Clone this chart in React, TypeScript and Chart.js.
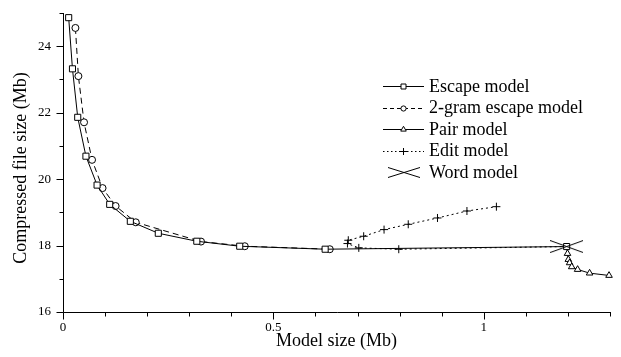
import React, { useEffect, useRef } from 'react';
import { Chart, registerables } from 'chart.js';

Chart.register(...registerables);

const FONT = "'Liberation Serif', 'Times New Roman', serif";

// Data
const escapeX = [0.0135, 0.0225, 0.035, 0.0545, 0.081, 0.111, 0.16, 0.2265, 0.318, 0.42, 0.623, 1.197];
const escapeY = [24.86, 23.32, 21.86, 20.69, 19.82, 19.24, 18.73, 18.37, 18.13, 17.98, 17.89, 17.97];

const gramX = [0.0295, 0.0366, 0.05, 0.069, 0.094, 0.125, 0.173, 0.328, 0.432, 0.634];
const gramY = [24.55, 23.1, 21.71, 20.58, 19.73, 19.19, 18.7, 18.12, 17.98, 17.89];

const pairX = [1.197, 1.199, 1.201, 1.204, 1.209, 1.223, 1.2515, 1.2977];
const pairY = [17.97, 17.76, 17.58, 17.48, 17.36, 17.28, 17.17, 17.1];

const editX = [1.197, 0.798, 0.703, 0.676, 0.678, 0.7146, 0.763, 0.8205, 0.89, 0.96, 1.03];
const editY = [17.97, 17.89, 17.93, 18.06, 18.16, 18.28, 18.48, 18.64, 18.83, 19.04, 19.17];

const wordX = [1.197];
const wordY = [17.97];

const xMajorLabels = [0, 0.5, 1];
const yMajorLabels = [16, 18, 20, 22, 24];

const legendLabels = ['Escape model', '2-gram escape model', 'Pair model', 'Edit model', 'Word model'];

const toPoints = (xs: number[], ys: number[]) => xs.map((x, i) => ({ x, y: ys[i] }));

function makeXMarker(w: number, h: number): HTMLCanvasElement {
  const c = document.createElement('canvas');
  c.width = w;
  c.height = h;
  const g = c.getContext('2d')!;
  g.strokeStyle = '#000';
  g.lineWidth = 1;
  g.beginPath();
  g.moveTo(0, 0.5);
  g.lineTo(w, h - 0.5);
  g.moveTo(0, h - 0.5);
  g.lineTo(w, 0.5);
  g.stroke();
  return c;
}

function isLabelled(v: number, list: number[]) {
  return list.some((m) => Math.abs(m - v) < 1e-6);
}

function fmt(v: number) {
  return String(Math.round(v * 1000) / 1000);
}

function drawMarker(ctx: CanvasRenderingContext2D, style: string, x: number, y: number, r: number) {
  ctx.save();
  ctx.fillStyle = '#fff';
  ctx.strokeStyle = '#000';
  ctx.lineWidth = 1;
  ctx.setLineDash([]);
  ctx.beginPath();
  if (style === 'rect') {
    ctx.rect(x - r, y - r, 2 * r, 2 * r);
    ctx.fill();
    ctx.stroke();
  } else if (style === 'circle') {
    ctx.arc(x, y, r, 0, Math.PI * 2);
    ctx.fill();
    ctx.stroke();
  } else if (style === 'triangle') {
    ctx.moveTo(x, y - r);
    ctx.lineTo(x + r * 0.866, y + r * 0.5);
    ctx.lineTo(x - r * 0.866, y + r * 0.5);
    ctx.closePath();
    ctx.fill();
    ctx.stroke();
  } else if (style === 'cross') {
    ctx.moveTo(x - r, y);
    ctx.lineTo(x + r, y);
    ctx.moveTo(x, y - r);
    ctx.lineTo(x, y + r);
    ctx.stroke();
  }
  ctx.restore();
}

const decorPlugin = {
  id: 'decor',
  afterDraw(chart: any) {
    const { ctx, chartArea: a, scales } = chart;
    const xs = scales.x;
    const ys = scales.y;
    ctx.save();
    ctx.strokeStyle = '#000';
    ctx.lineWidth = 1;
    ctx.setLineDash([]);
    const bx = Math.round(a.left) + 0.5;
    const by = Math.round(a.bottom) + 0.5;
    ctx.beginPath();
    ctx.moveTo(bx, Math.round(a.top));
    ctx.lineTo(bx, by);
    ctx.lineTo(Math.round(a.right) + 1, by);
    xs.ticks.forEach((t: any) => {
      const px = Math.round(xs.getPixelForValue(t.value)) + 0.5;
      const len = isLabelled(t.value, xMajorLabels) ? 7 : 4;
      ctx.moveTo(px, by);
      ctx.lineTo(px, by + len);
    });
    ys.ticks.forEach((t: any) => {
      const py = Math.round(ys.getPixelForValue(t.value)) + 0.5;
      const len = isLabelled(t.value, yMajorLabels) ? 7 : 4;
      ctx.moveTo(bx, py);
      ctx.lineTo(bx - len, py);
    });
    ctx.stroke();

    // axis titles
    ctx.fillStyle = '#000';
    ctx.font = `18px ${FONT}`;
    ctx.textAlign = 'center';
    ctx.textBaseline = 'middle';
    ctx.fillText('Model size (Mb)', (a.left + a.right) / 2, 341);
    ctx.save();
    ctx.translate(21, 168);
    ctx.rotate(-Math.PI / 2);
    ctx.fillText('Compressed file size (Mb)', 0, 0);
    ctx.restore();

    // legend
    const lx0 = 383;
    const lx1 = 424;
    const mx = (lx0 + lx1) / 2;
    const tx = 429;
    const rowY = [86, 107.5, 129, 150.5, 172];
    const dashes: number[][] = [[], [4, 3], [], [1.5, 2.5], []];
    const markers = ['rect', 'circle', 'triangle', 'cross', 'word'];
    const sizes = [2.5, 2.6, 3.2, 3.5, 0];
    legendLabels.forEach((label, i) => {
      const yy = Math.round(rowY[i]) + 0.5;
      if (markers[i] !== 'word') {
        ctx.save();
        ctx.setLineDash(dashes[i]);
        ctx.beginPath();
        ctx.moveTo(lx0, yy);
        ctx.lineTo(lx1, yy);
        ctx.stroke();
        ctx.restore();
        drawMarker(ctx, markers[i], mx, yy, sizes[i]);
      } else {
        const m = makeXMarker(32, 11);
        ctx.drawImage(m, Math.round(mx - 16), Math.round(yy - 5.5));
      }
      ctx.fillStyle = '#000';
      ctx.font = `18px ${FONT}`;
      ctx.textAlign = 'left';
      ctx.textBaseline = 'middle';
      ctx.fillText(label, tx, rowY[i] + 1);
    });
    ctx.restore();
  },
};

export default function App() {
  const ref = useRef<HTMLCanvasElement | null>(null);

  useEffect(() => {
    if (!ref.current) return;
    const wordMarker = makeXMarker(33, 13);
    const common = {
      showLine: true,
      borderColor: '#000',
      borderWidth: 1,
      pointBackgroundColor: '#fff',
      pointBorderColor: '#000',
      pointBorderWidth: 1,
      clip: false as any,
    };
    const chart = new Chart(ref.current, {
      type: 'scatter',
      data: {
        datasets: [
          {
            ...common,
            label: legendLabels[4],
            data: toPoints(wordX, wordY),
            showLine: false,
            pointStyle: wordMarker as any,
            pointRadius: 10,
            order: 0,
          },
          {
            ...common,
            label: legendLabels[0],
            data: toPoints(escapeX, escapeY),
            pointStyle: 'rect',
            pointRadius: 4.3,
            order: 1,
          },
          {
            ...common,
            label: legendLabels[1],
            data: toPoints(gramX, gramY),
            borderDash: [6, 4],
            pointStyle: 'circle',
            pointRadius: 3.5,
            order: 2,
          },
          {
            ...common,
            label: legendLabels[2],
            data: toPoints(pairX, pairY),
            pointStyle: 'triangle',
            pointRadius: pairX.map((_, i) => (i === 0 ? 0 : 3.8)),
            order: 3,
          },
          {
            ...common,
            label: legendLabels[3],
            data: toPoints(editX, editY),
            borderDash: [2, 3],
            pointStyle: 'cross',
            pointRadius: editX.map((_, i) => (i === 0 ? 0 : 4)),
            order: 4,
          },
        ],
      },
      options: {
        animation: false,
        responsive: false,
        devicePixelRatio: 1,
        layout: { padding: { top: 13, right: 3, left: 0, bottom: 0 } },
        plugins: { legend: { display: false }, tooltip: { enabled: false } },
        scales: {
          x: {
            type: 'linear',
            min: 0,
            max: 1.3,
            grid: { display: false },
            border: { display: false },
            ticks: {
              stepSize: 0.1,
              autoSkip: false,
              maxRotation: 0,
              padding: 0,
              color: '#000',
              font: { family: FONT, size: 13 },
              callback: (v: any) => (isLabelled(Number(v), xMajorLabels) ? fmt(Number(v)) : ''),
            },
            afterFit: (s: any) => {
              s.height = 45;
            },
          },
          y: {
            type: 'linear',
            min: 16,
            max: 25,
            grid: { display: false },
            border: { display: false },
            ticks: {
              stepSize: 1,
              autoSkip: false,
              padding: 4,
              color: '#000',
              font: { family: FONT, size: 13 },
              callback: (v: any) => (isLabelled(Number(v), yMajorLabels) ? fmt(Number(v)) : ''),
            },
            afterFit: (s: any) => {
              s.width = 63;
            },
          },
        },
      },
      plugins: [decorPlugin],
    });
    return () => chart.destroy();
  }, []);

  return (
    <div style={{ position: 'absolute', left: 0, top: 0, width: 621, height: 357, background: '#fff' }}>
      <canvas ref={ref} width={621} height={357} style={{ display: 'block' }} />
    </div>
  );
}
